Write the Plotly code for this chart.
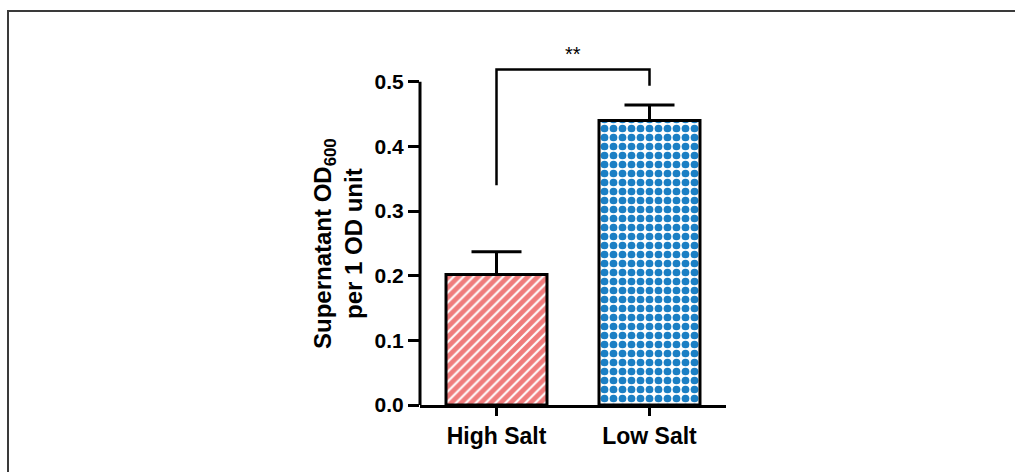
import plotly.graph_objects as go

categories = ["High Salt", "Low Salt"]
means = [0.202, 0.440]
sem_upper = [0.035, 0.024]
bar_colors = ["#EF7C7C", "#1B7FC4"]

# significance bracket (data units)
bracket_y = 0.519
bracket_left_bottom = 0.34
bracket_right_bottom = 0.494
sig_label = "**"
sig_y = 0.543

y_ticks = [0.0, 0.1, 0.2, 0.3, 0.4, 0.5]

W, H = 1015, 472
ML, MR, MT, MB = 420, 289, 43, 67
PW, PH = W - ML - MR, H - MT - MB


def px_x(p):
    return (p - ML) / PW


def px_y(p):
    return (H - MB - p) / PH


FONT = "Liberation Sans, Arial, sans-serif"

fig = go.Figure()

fig.add_trace(go.Bar(
    x=[categories[0]], y=[means[0]], width=0.66,
    marker=dict(
        color=bar_colors[0],
        line=dict(color="black", width=3),
        pattern=dict(shape="/", fgcolor="white", bgcolor=bar_colors[0],
                     size=7, solidity=0.3, fillmode="replace", fgopacity=1),
    ),
    error_y=dict(type="data", symmetric=False, array=[sem_upper[0]],
                 arrayminus=[0], color="black", thickness=3, width=25),
    showlegend=False, hoverinfo="skip",
))
fig.add_trace(go.Bar(
    x=[categories[1]], y=[means[1]], width=0.66,
    marker=dict(
        color="white",
        line=dict(color="black", width=3),
        pattern=dict(shape=".", fgcolor=bar_colors[1], bgcolor="white",
                     size=9, solidity=0.58, fillmode="replace", fgopacity=1),
    ),
    error_y=dict(type="data", symmetric=False, array=[sem_upper[1]],
                 arrayminus=[0], color="black", thickness=3, width=25),
    showlegend=False, hoverinfo="skip",
))

fig.add_trace(go.Scatter(
    x=[categories[0], categories[0], categories[1], categories[1]],
    y=[bracket_left_bottom, bracket_y, bracket_y, bracket_right_bottom],
    mode="lines", line=dict(color="black", width=2.5),
    showlegend=False, hoverinfo="skip",
))

fig.add_annotation(x=0.5, y=sig_y, xref="x", yref="y", text=sig_label,
                   showarrow=False, font=dict(family=FONT, size=20, color="black"),
                   yanchor="middle")

# y-axis title
fig.add_annotation(
    x=px_x(338), y=px_y(244), xref="paper", yref="paper",
    text="<b>Supernatant OD<sub>600</sub></b><br><b>per 1 OD unit</b>",
    textangle=-90, showarrow=False, xanchor="center", yanchor="middle",
    font=dict(family=FONT, size=24, color="black"),
)

# y-axis line (only up to 0.5)
fig.add_shape(type="line", xref="paper", yref="y", x0=0, x1=0, y0=-0.002, y1=0.5,
              line=dict(color="black", width=3))

# outer frame (top & left edges)
fig.add_shape(type="line", xref="paper", yref="paper",
              x0=px_x(7), x1=px_x(1015), y0=px_y(11), y1=px_y(11),
              line=dict(color="#3a3a3a", width=2))
fig.add_shape(type="line", xref="paper", yref="paper",
              x0=px_x(8), x1=px_x(8), y0=px_y(10), y1=px_y(472),
              line=dict(color="#3a3a3a", width=2))

fig.update_layout(
    width=W, height=H,
    margin=dict(l=ML, r=MR, t=MT, b=MB, pad=0),
    paper_bgcolor="white", plot_bgcolor="white",
    bargap=0.34,
    font=dict(family=FONT, color="black"),
    xaxis=dict(
        type="category", categoryorder="array", categoryarray=categories,
        range=[-0.5, 1.5], showline=True, linecolor="black", linewidth=3,
        ticks="outside", ticklen=8, tickwidth=3, tickcolor="black",
        showgrid=False, zeroline=False,
        tickvals=categories, ticktext=[f"<b>{c}</b>" for c in categories],
        tickfont=dict(family=FONT, size=23, color="black"),
    ),
    yaxis=dict(
        range=[0, 0.56], showline=False, showgrid=False, zeroline=False,
        ticks="outside", ticklen=11, tickwidth=3, tickcolor="black",
        tickvals=y_ticks, ticktext=[f"<b>{v:.1f}</b>" for v in y_ticks],
        tickfont=dict(family=FONT, size=21, color="black"),
    ),
)

fig.write_html(
    "out.html",
    config={"displayModeBar": False},
    post_script="document.body.style.margin='0';document.body.style.overflow='hidden';",
)
